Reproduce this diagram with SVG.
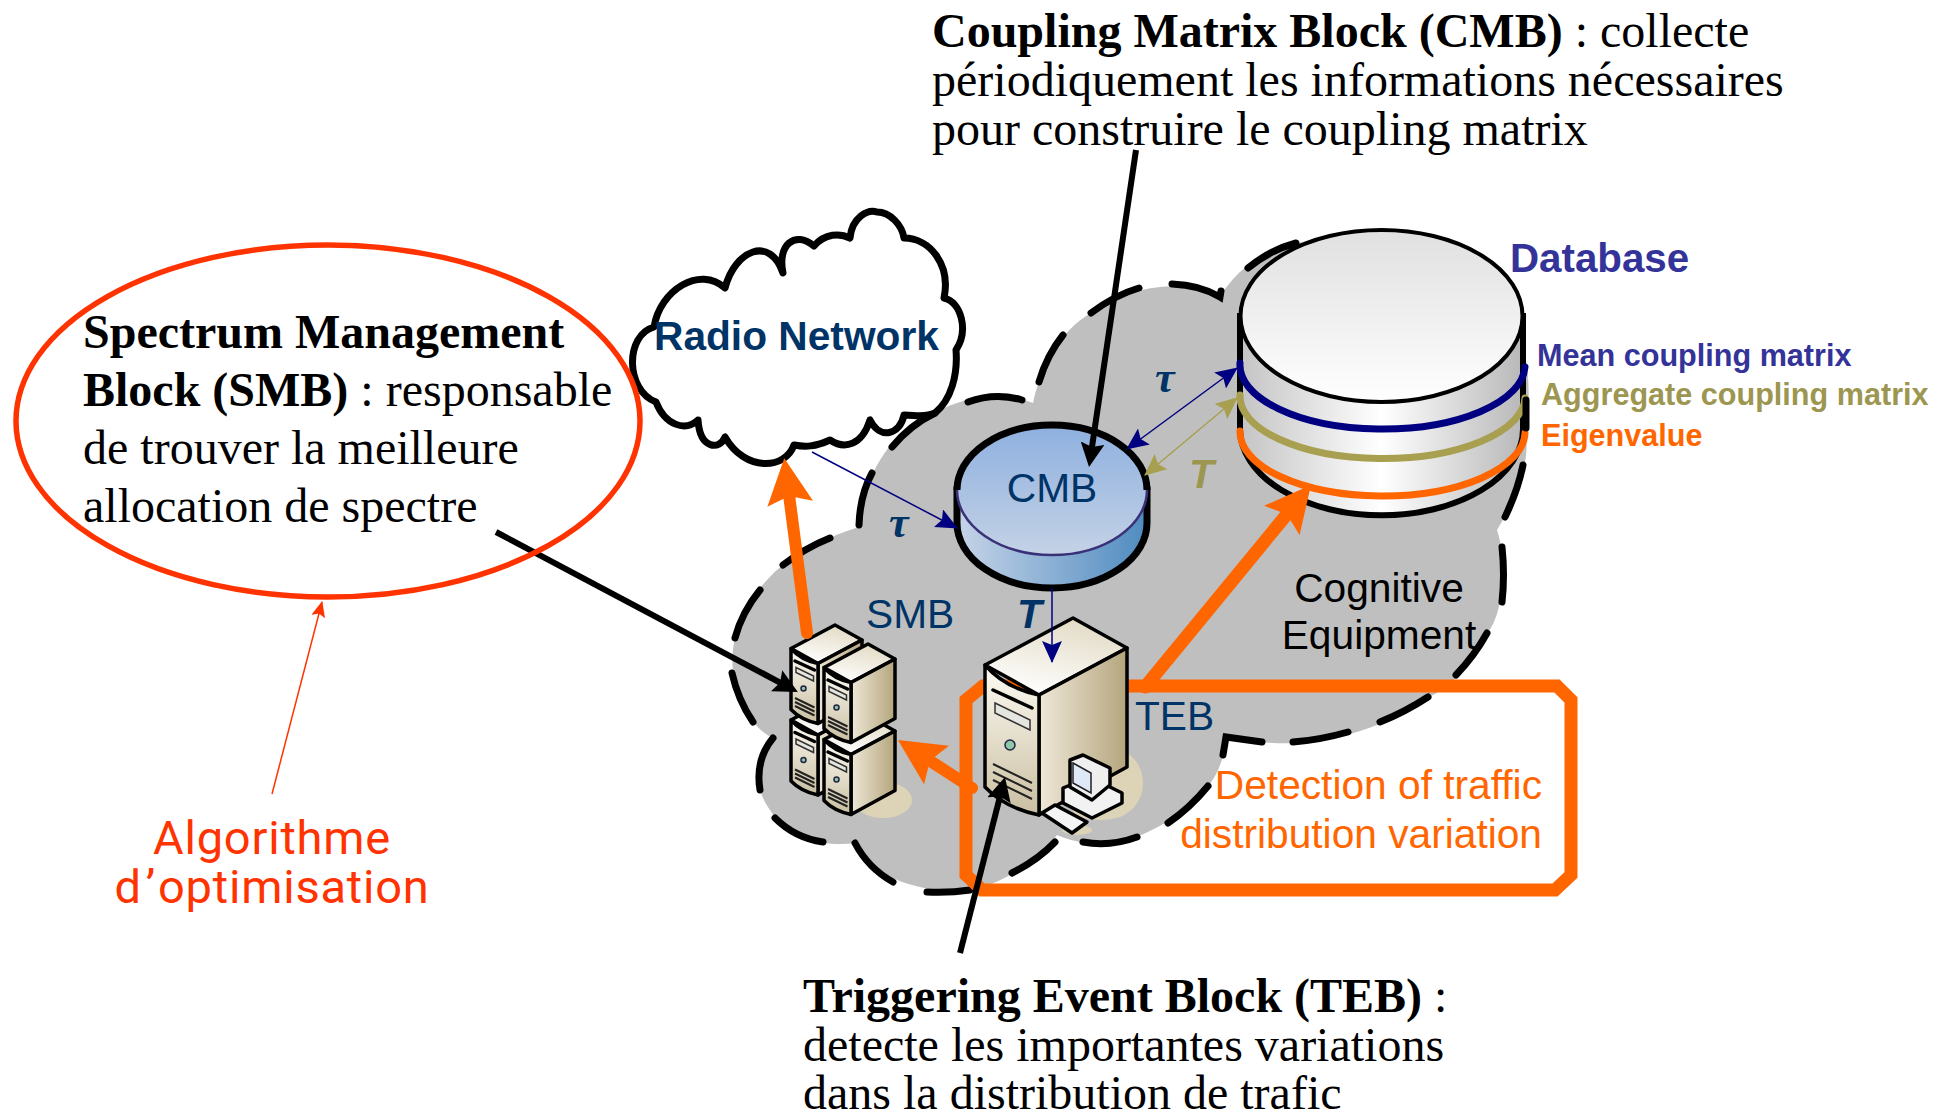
<svg xmlns="http://www.w3.org/2000/svg" xmlns:xlink="http://www.w3.org/1999/xlink" width="1948" height="1115" viewBox="0 0 1948 1115">
<style>
.ser{font-family:"Liberation Serif","Times New Roman",serif;font-size:48px;fill:#000}
.b{font-weight:bold}
.ar{font-family:"Liberation Sans",Arial,sans-serif;font-size:40.7px}
.navy{fill:#003366}
.org{fill:#ff6600}
.dash{fill:none;stroke:#000;stroke-width:7;stroke-linecap:round}
.lab{font-family:"Liberation Sans",Arial,sans-serif;font-weight:bold;font-size:30.6px}
.tau{font-family:"Liberation Serif",serif;font-weight:bold;font-style:italic;font-size:44px;fill:#003366}
.ol{stroke:#000;stroke-width:3.5;stroke-linejoin:round;vector-effect:non-scaling-stroke}
.algo{font-family:Roboto,sans-serif;font-size:47px;fill:#ff3300;letter-spacing:0.8px}
.ns{vector-effect:non-scaling-stroke;fill:none}
</style>
<defs>
<linearGradient id="gDbTop" x1="0" y1="0" x2="0" y2="1"><stop offset="0" stop-color="#e0e0e0"/><stop offset="1" stop-color="#ffffff"/></linearGradient>
<linearGradient id="gDbSide" x1="0" y1="0" x2="1" y2="0"><stop offset="0" stop-color="#c4c4c4"/><stop offset="0.5" stop-color="#ffffff"/><stop offset="1" stop-color="#b8b8b8"/></linearGradient>
<linearGradient id="gCmbTop" x1="0" y1="0" x2="0" y2="1"><stop offset="0" stop-color="#8eb0df"/><stop offset="1" stop-color="#c4d2e6"/></linearGradient>
<linearGradient id="gCmbSide" x1="0" y1="0" x2="1" y2="0"><stop offset="0" stop-color="#c6d4e8"/><stop offset="1" stop-color="#4f8bc0"/></linearGradient>
<linearGradient id="gSrvTop" x1="0.7" y1="0" x2="0.3" y2="1"><stop offset="0" stop-color="#e2dac4"/><stop offset="1" stop-color="#ffffff"/></linearGradient>
<linearGradient id="gSrvFront" x1="0" y1="0" x2="0" y2="1"><stop offset="0" stop-color="#fdfbf4"/><stop offset="1" stop-color="#c9bea0"/></linearGradient>
<linearGradient id="gSrvRight" x1="0" y1="0" x2="1" y2="0"><stop offset="0" stop-color="#efe8d8"/><stop offset="1" stop-color="#b4a57d"/></linearGradient>
<marker id="mO" markerUnits="userSpaceOnUse" markerWidth="46" markerHeight="46" viewBox="0 0 46 46" refX="20" refY="23" orient="auto"><path d="M0,0L46,23L0,46L8,23Z" fill="#ff6600"/></marker>
<marker id="mK" markerUnits="userSpaceOnUse" markerWidth="24" markerHeight="24" viewBox="0 0 24 24" refX="14" refY="12" orient="auto"><path d="M0,0L24,12L0,24L4,12Z" fill="#000"/></marker>
<marker id="mN" markerUnits="userSpaceOnUse" markerWidth="22" markerHeight="20" viewBox="0 0 22 20" refX="21" refY="10" orient="auto-start-reverse"><path d="M0,0L22,10L0,20L4,10Z" fill="#000080"/></marker>
<marker id="mL" markerUnits="userSpaceOnUse" markerWidth="22" markerHeight="20" viewBox="0 0 22 20" refX="21" refY="10" orient="auto-start-reverse"><path d="M0,0L22,10L0,20L4,10Z" fill="#a8a050"/></marker>
<marker id="mR" markerUnits="userSpaceOnUse" markerWidth="16" markerHeight="14" viewBox="0 0 16 14" refX="15" refY="7" orient="auto"><path d="M0,0L16,7L0,14L3,7Z" fill="#ff3300"/></marker>
<g id="srv">
<path class="ol" d="M0,47L88,0L142,30L54,77Z" fill="url(#gSrvTop)"/>
<path class="ol" d="M54,77L142,30V149L54,197Z" fill="url(#gSrvRight)"/>
<path class="ol" d="M0,47Q20,70 54,77V197Q20,190 0,169Z" fill="url(#gSrvFront)"/>
<path class="ns" d="M8,72L47,90" stroke="#000" stroke-width="3.5" stroke-linecap="round"/>
<path d="M10,85L45,102V112L10,95Z" fill="#e6e6e0" stroke="#333" stroke-width="1.5" vector-effect="non-scaling-stroke"/>
<circle cx="25" cy="127" r="5" fill="#8fc8a8" stroke="#224" stroke-width="1.5" vector-effect="non-scaling-stroke"/>
<path class="ns" d="M8,146L47,165M8,154L47,173M8,162L47,181" stroke="#222" stroke-width="2"/>
</g>
</defs>
<rect width="1948" height="1115" fill="#fff"/>

<g id="cognitive-equipment">
<path fill="#bfbfbf" d="M1220,297C1235,270 1270,245 1296,243L1400,232C1500,240 1540,340 1526,430C1530,470 1515,500 1497,530C1510,570 1500,620 1487,633C1475,660 1450,690 1428,697C1400,720 1330,750 1262,742L1226,737C1225,755 1218,775 1208,786C1190,810 1165,825 1137,837C1110,848 1080,845 1057,835C1040,860 1000,885 970,890C930,895 870,880 855,843C820,848 785,835 770,810C755,790 752,760 773,738C745,725 725,680 735,638C740,610 770,560 830,538C840,533 850,530 859,527C860,490 885,430 935,413C965,395 1005,392 1033,403C1040,370 1060,330 1091,313C1120,290 1180,275 1220,297Z"/>
<path class="dash" d="M1248,268Q1270,250 1296,243M1172,284Q1200,285 1220,297L1221,291M1091,313Q1115,295 1139,288M1039,382Q1047,355 1063,335M968,402Q995,392 1022,400M892,447Q910,425 935,413M859,525Q860,495 872,473M783,565Q805,548 830,538M760,590Q742,612 735,638M732,673Q738,700 753,722M773,738Q755,760 760,790M775,818Q795,838 823,842M855,843Q868,868 893,882M927,892Q950,893 970,890M1012,873Q1038,860 1055,842M1083,842Q1110,847 1137,837M1168,823Q1190,808 1208,786M1223,755L1226,737L1262,742M1293,742Q1320,740 1348,732M1380,722Q1405,712 1428,697M1456,675Q1475,655 1487,633M1502,547Q1505,575 1502,602M1505,517Q1518,490 1523,465"/>
<text class="ar" x="1379" y="602" text-anchor="middle">Cognitive</text>
<text class="ar" x="1379" y="649" text-anchor="middle">Equipment</text>
</g>

<g id="detection-box">
<path d="M1557,686L1571,700V875L1555,890H982L966,875V700L983,686Z" fill="none" stroke="#ff6600" stroke-width="13"/>
<text class="ar org" x="1542" y="799" text-anchor="end">Detection of traffic</text>
<text class="ar org" x="1542" y="848" text-anchor="end">distribution variation</text>
</g>

<g id="radio-network">
<path fill="#fff" stroke="#000" stroke-width="7" stroke-linejoin="round" d="M783,273C777,245 795,230 814,246C825,233 840,233 850,238C852,217 868,209 877,212C890,212 902,225 904,238C930,238 951,265 944,298C961,302 969,330 956,350C958,375 951,400 935,413C925,418 915,415 904,415C900,435 880,440 870,420C862,445 845,450 830,440C815,447 805,447 794,445C785,470 745,472 725,437C720,450 700,450 698,420C685,432 665,425 656,402C625,390 625,335 654,327C660,290 700,265 725,288C735,250 770,235 783,273Z"/>
<text class="ar b navy" x="654" y="350">Radio Network</text>
</g>

<g id="cmb">
<path d="M957,490V523A95,65 0 0 0 1147,523V490Z" fill="url(#gCmbSide)" stroke="#000" stroke-width="7"/>
<ellipse cx="1052" cy="490" rx="95" ry="65" fill="url(#gCmbTop)" stroke="#3b3178" stroke-width="2.5"/>
<path d="M957,490A95,65 0 0 1 1147,490" fill="none" stroke="#000" stroke-width="7"/>
<text class="ar navy" x="1052" y="502" text-anchor="middle">CMB</text>
</g>

<g id="database">
<path d="M1240,316V429A141,86 0 0 0 1523,429V316Z" fill="url(#gDbSide)" stroke="#000" stroke-width="6"/>
<ellipse cx="1381.5" cy="316" rx="141" ry="86" fill="url(#gDbTop)" stroke="#000" stroke-width="4"/>
<path d="M1240,363A142.5,64 0 0 0 1525,367" fill="none" stroke="#000080" stroke-width="7" stroke-linecap="round"/>
<path d="M1240,395A142.5,62 0 0 0 1525,398" fill="none" stroke="#a8a050" stroke-width="7" stroke-linecap="round"/>
<path d="M1240,431A142.5,64 0 0 0 1525,433" fill="none" stroke="#ff6600" stroke-width="7" stroke-linecap="round"/>
<path class="dash" d="M1526,400V428"/>
<text x="1510" y="272" style="font-family:'Liberation Sans',Arial,sans-serif;font-weight:bold;font-size:40.3px;fill:#333399">Database</text>
<text class="lab" x="1537" y="366" fill="#333399">Mean coupling matrix</text>
<text class="lab" x="1541" y="405" fill="#9c9650">Aggregate coupling matrix</text>
<text class="lab" x="1541" y="446" fill="#ff6600">Eigenvalue</text>
</g>

<g id="smb">
<ellipse cx="883" cy="800" rx="29" ry="18" fill="#ddd3b7"/>
<use xlink:href="#srv" transform="translate(791,696.5) scale(0.5)"/>
<use xlink:href="#srv" transform="translate(824,716) scale(0.5)"/>
<use xlink:href="#srv" transform="translate(791,625) scale(0.5)"/>
<use xlink:href="#srv" transform="translate(824,644) scale(0.5)"/>
<text class="ar navy" x="866" y="628">SMB</text>
</g>

<g id="teb">
<ellipse cx="1113" cy="783" rx="30" ry="34" fill="#ddd3b7"/>
<ellipse cx="1100" cy="811" rx="27" ry="9" fill="#ddd3b7"/>
<ellipse cx="1077" cy="830" rx="15" ry="5" fill="#ddd3b7"/>
<use xlink:href="#srv" transform="translate(985,618)"/>
<path class="ol" d="M1063,788L1090,777L1122,793V803L1092,818L1063,803Z" fill="#f2f2f2"/>
<path class="ol" d="M1070,760L1083,755L1110,768V785L1092,800L1070,787Z" fill="#efefef"/>
<path d="M1073,763L1091,773V793L1073,783Z" fill="#dfe8f6" stroke="#222" stroke-width="1.5"/>
<path class="ol" d="M1042,813L1055,805L1087,822L1072,833Z" fill="#f4f4f4"/>
<text class="ar navy" x="1135" y="730">TEB</text>
</g>

<g id="connectors" fill="none">
<path d="M812,452L957,528" stroke="#000080" stroke-width="1.5" marker-end="url(#mN)"/>
<path d="M1127,449L1237,368" stroke="#000080" stroke-width="1.5" marker-start="url(#mN)" marker-end="url(#mN)"/>
<path d="M1145,475L1237,398" stroke="#a8a050" stroke-width="1.5" marker-start="url(#mL)" marker-end="url(#mL)"/>
<path d="M1052,588V662" stroke="#000080" stroke-width="1.5" marker-end="url(#mN)"/>
<path d="M807,633L787.6,484" stroke="#ff6600" stroke-width="12" stroke-linecap="round" marker-end="url(#mO)"/>
<path d="M1145,687L1294.5,505" stroke="#ff6600" stroke-width="13" stroke-linecap="round" marker-end="url(#mO)"/>
<path d="M972,788L919.8,754.2" stroke="#ff6600" stroke-width="12" stroke-linecap="round" marker-end="url(#mO)"/>
<path d="M1136,150L1090.5,457" stroke="#000" stroke-width="6" marker-end="url(#mK)"/>
<path d="M496,532L789,687.3" stroke="#000" stroke-width="6" marker-end="url(#mK)"/>
<path d="M960,953L1002.5,786.7" stroke="#000" stroke-width="6" marker-end="url(#mK)"/>
<path d="M272,794L322,602" stroke="#ff3300" stroke-width="1.5" marker-end="url(#mR)"/>
</g>

<g id="smb-callout">
<ellipse cx="328" cy="421" rx="312" ry="176" fill="none" stroke="#ff3300" stroke-width="5.5"/>
<text class="ser" x="83" y="348"><tspan class="b">Spectrum Management</tspan></text>
<text class="ser" x="83" y="406"><tspan class="b">Block (SMB)</tspan> : responsable</text>
<text class="ser" x="83" y="464">de trouver la meilleure</text>
<text class="ser" x="83" y="522">allocation de spectre</text>
</g>

<g id="cmb-caption">
<text class="ser" x="935" y="47" dx="-3"><tspan class="b">Coupling Matrix Block (CMB)</tspan> : collecte</text>
<text class="ser" x="932" y="96">périodiquement les informations nécessaires</text>
<text class="ser" x="932" y="145">pour construire le coupling matrix</text>
</g>

<g id="teb-caption">
<text class="ser" x="803" y="1012"><tspan class="b">Triggering Event Block (TEB)</tspan> :</text>
<text class="ser" x="803" y="1061">detecte les importantes variations</text>
<text class="ser" x="803" y="1109">dans la distribution de trafic</text>
</g>

<g id="algo-label">
<text class="algo" x="272" y="854" text-anchor="middle">Algorithme</text>
<text class="algo" x="272" y="903" text-anchor="middle">d<tspan dx="4">’</tspan><tspan dx="5">optimisation</tspan></text>
</g>

<g id="link-labels">
<text class="tau" x="1155" y="392">τ</text>
<text class="tau" x="889" y="537">τ</text>
<text class="ar b" x="1189" y="488" style="font-style:italic" fill="#9c9650">T</text>
<text class="ar b navy" x="1017" y="628" style="font-style:italic">T</text>
</g>
</svg>
